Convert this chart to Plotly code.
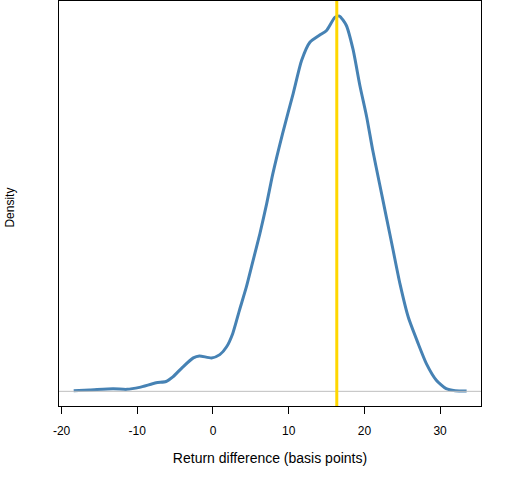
import plotly.graph_objects as go

# density estimate (x in basis points)
diff_bp = [-18.4, -16.3, -13.2, -11.4, -9.7, -7.5, -6.2, -5.3, -4.0, -2.6,
           -1.8, -0.2, 0.9, 1.8, 2.6, 3.5, 4.4, 5.3, 6.2, 7.1,
           7.9, 9.2, 10.6, 11.7, 12.8, 14.1, 15.0, 16.1, 16.7, 17.6,
           18.5, 19.4, 20.3, 21.1, 22.0, 22.9, 23.8, 24.7, 25.8, 27.1,
           28.2, 29.5, 30.8, 32.0, 33.5]
density = [0.0001, 0.0002, 0.0004, 0.0003, 0.0006, 0.0013, 0.0015, 0.0022, 0.0037, 0.0051,
           0.0054, 0.0051, 0.0056, 0.0068, 0.0088, 0.0124, 0.0159, 0.0200, 0.0241, 0.0287,
           0.0332, 0.0394, 0.0455, 0.0505, 0.0533, 0.0544, 0.0551, 0.0571, 0.0573, 0.0559,
           0.0522, 0.0467, 0.0419, 0.0368, 0.0317, 0.0266, 0.0215, 0.0164, 0.0113, 0.0073,
           0.0042, 0.0017, 0.0004, 0.0001, 0.00005]
actual_bp = 16.35
x_ticks = [-20, -10, 0, 10, 20, 30]
x_tick_labels = ["-20", "-10", "0", "10", "20", "30"]

fig = go.Figure()

# baseline at zero
fig.add_hline(y=0, line_color="#BEBEBE", line_width=1)

fig.add_trace(go.Scatter(
    x=diff_bp, y=density, mode="lines",
    line=dict(color="steelblue", width=3, shape="spline", smoothing=0.6),
    hoverinfo="skip"
))

fig.add_vline(x=actual_bp, line_color="gold", line_width=3)

fig.update_layout(
    width=512, height=480,
    margin=dict(l=59, r=31, t=1, b=74),
    plot_bgcolor="white", paper_bgcolor="white",
    showlegend=False,
    font=dict(family="Liberation Sans, Arial", size=12, color="black"),
    annotations=[dict(
        text="Density", textangle=-90, showarrow=False,
        xref="paper", yref="paper", x=-0.116, y=0.49,
        xanchor="center", yanchor="middle", font=dict(size=12)
    )]
)

fig.update_xaxes(
    range=[-20.34, 35.4], tickvals=x_ticks, ticktext=x_tick_labels,
    ticks="outside", ticklen=7, tickcolor="black", ticklabelstandoff=7,
    showline=True, linecolor="black", linewidth=1, mirror=True,
    showgrid=False, zeroline=False,
    title=dict(text="Return difference (basis points)", standoff=15)
)
fig.update_yaxes(
    range=[-0.00224, 0.0596], showticklabels=False, ticks="",
    showline=True, linecolor="black", linewidth=1, mirror=True,
    showgrid=False, zeroline=False
)

# drop the page's default body margin so the figure sits at the top-left corner
fig.write_html("out.html", config={"displayModeBar": False},
               post_script="document.body.style.margin='0';")
